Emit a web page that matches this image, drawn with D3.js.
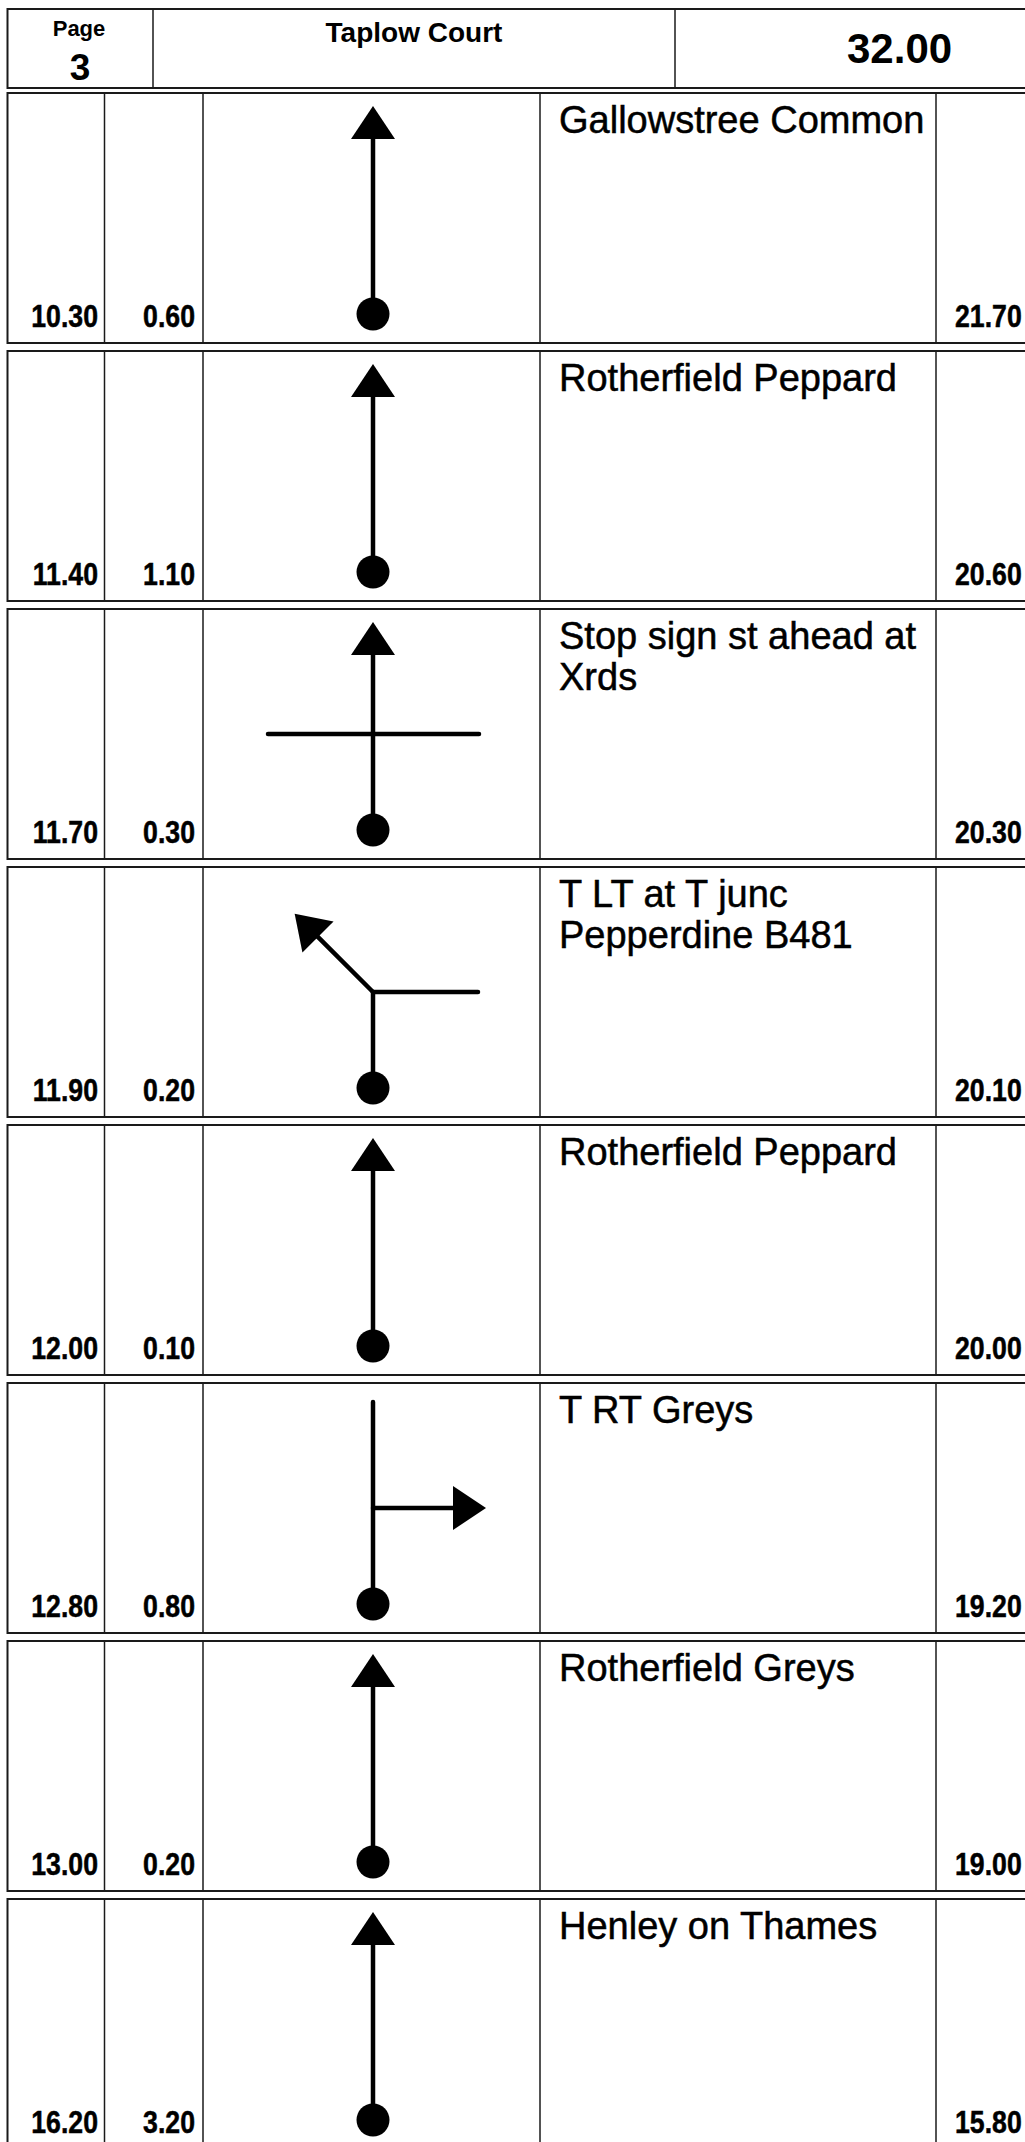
<!DOCTYPE html>
<html>
<head>
<meta charset="utf-8">
<script src="https://cdn.jsdelivr.net/npm/d3@7"></script>
<style>
  html, body { margin: 0; padding: 0; background: #fff; }
  svg { display: block; }
  text { font-family: "Liberation Sans", Arial, Helvetica, sans-serif; fill: #000; }
</style>
</head>
<body>
<script>
// ---- data ----
const pageNumber = "3";
const routeTitle = "Taplow Court";
const totalDistance = "32.00";
const cumulative = ["10.30", "11.40", "11.70", "11.90", "12.00", "12.80", "13.00", "16.20"];
const legDistance = ["0.60", "1.10", "0.30", "0.20", "0.10", "0.80", "0.20", "3.20"];
const remaining = ["21.70", "20.60", "20.30", "20.10", "20.00", "19.20", "19.00", "15.80"];
const instructions = [
  ["Gallowstree Common"],
  ["Rotherfield Peppard"],
  ["Stop sign st ahead at", "Xrds"],
  ["T LT at T junc", "Pepperdine B481"],
  ["Rotherfield Peppard"],
  ["T RT Greys"],
  ["Rotherfield Greys"],
  ["Henley on Thames"]
];
const manoeuvres = ["straight", "straight", "cross", "left", "straight", "right", "straight", "straight"];

// ---- layout ----
const W = 1025, H = 2142;
const svg = d3.select("body").append("svg").attr("width", W).attr("height", H);
svg.append("rect").attr("width", W).attr("height", H).attr("fill", "#fff");

const rowIndex = d3.range(cumulative.length);
const y = d3.scaleLinear().domain([0, 1]).range([93, 351]);   // top of each row box
const rowH = 250;
const colX = [7.5, 104.5, 203, 540, 936, 1040];
const iconX = 373;
const iy = d3.scaleLinear().domain([0, 1]).range([0, 1]);     // icon offsets inside a row

// ---- header ----
const header = svg.append("g");
header.append("rect").attr("x", 7.5).attr("y", 9).attr("width", 1040).attr("height", 79)
  .attr("fill", "none").attr("stroke", "#1a1a1a").attr("stroke-width", 2);
[153, 675].forEach(x => header.append("line").attr("x1", x).attr("x2", x).attr("y1", 9).attr("y2", 88)
  .attr("stroke", "#1a1a1a").attr("stroke-width", 1.5));
header.append("text").attr("x", 79).attr("y", 36).attr("text-anchor", "middle")
  .attr("font-weight", "bold").attr("font-size", 22).text("Page");
header.append("text").attr("x", 80).attr("y", 80).attr("text-anchor", "middle")
  .attr("font-weight", "bold").attr("font-size", 37).text(pageNumber);
header.append("text").attr("x", 414).attr("y", 42).attr("text-anchor", "middle")
  .attr("font-weight", "bold").attr("font-size", 28).text(routeTitle);
header.append("text").attr("x", 847).attr("y", 63).attr("text-anchor", "start")
  .attr("font-weight", "bold").attr("font-size", 42).text(totalDistance);

// ---- rows ----
const rows = svg.selectAll("g.row").data(rowIndex).join("g")
  .attr("class", "row")
  .attr("transform", i => `translate(0,${y(i)})`);

rows.append("rect").attr("x", colX[0]).attr("y", 0).attr("width", colX[5] - colX[0]).attr("height", rowH)
  .attr("fill", "none").attr("stroke", "#1a1a1a").attr("stroke-width", 2);

rows.each(function () {
  const g = d3.select(this);
  colX.slice(1, 5).forEach(x => g.append("line").attr("x1", x).attr("x2", x).attr("y1", 0).attr("y2", rowH)
    .attr("stroke", "#1a1a1a").attr("stroke-width", 1.5));
});

const numBase = 234;
function condensed(sel, x, anchor, accessor) {
  sel.append("text")
    .attr("transform", `translate(${x},${numBase}) scale(0.86,1)`)
    .attr("text-anchor", anchor)
    .attr("font-weight", "bold").attr("font-size", 31)
    .attr("stroke", "#000").attr("stroke-width", 0.5)
    .text(accessor);
}
condensed(rows, 98, "end", i => cumulative[i]);
condensed(rows, 195, "end", i => legDistance[i]);
condensed(rows, 955, "start", i => remaining[i]);

rows.each(function (i) {
  const t = d3.select(this).append("text").attr("font-size", 38).attr("x", 559).attr("y", 40)
    .attr("stroke", "#000").attr("stroke-width", 0.5);
  instructions[i].forEach((line, k) => {
    t.append("tspan").attr("x", 559).attr("y", 40 + k * 41).text(line);
  });
});

// ---- manoeuvre icons ----
const SW = 4.5;
function arrowHead(g, x, yy, angleDeg) {
  g.append("path")
    .attr("d", "M0,0 L22,33 L-22,33 Z")
    .attr("transform", `translate(${x},${iy(yy)}) rotate(${angleDeg})`)
    .attr("fill", "#000");
}
function seg(g, x1, y1, x2, y2) {
  g.append("line").attr("x1", x1).attr("y1", iy(y1)).attr("x2", x2).attr("y2", iy(y2))
    .attr("stroke", "#000").attr("stroke-width", SW).attr("stroke-linecap", "round");
}

rows.each(function (i) {
  const g = d3.select(this).append("g");
  const type = manoeuvres[i];
  const junction = 125;
  if (type === "straight" || type === "cross") {
    seg(g, iconX, 221, iconX, 44);
    arrowHead(g, iconX, 13, 0);
    if (type === "cross") seg(g, 268, junction, 479, junction);
  } else if (type === "left") {
    seg(g, iconX, 221, iconX, junction);
    seg(g, iconX, junction, 478, junction);
    const L = 110.8, a = Math.PI / 4;
    const bx = iconX - (L - 30) * Math.sin(a), by = junction - (L - 30) * Math.cos(a);
    seg(g, iconX, junction, bx, by);
    arrowHead(g, iconX - L * Math.sin(a), junction - L * Math.cos(a), -45);
  } else if (type === "right") {
    seg(g, iconX, 221, iconX, 19);
    seg(g, iconX, junction, 455, junction);
    arrowHead(g, 486, junction, 90);
  }
  g.append("circle").attr("cx", iconX).attr("cy", iy(221)).attr("r", 16.5).attr("fill", "#000");
});
</script>
</body>
</html>
